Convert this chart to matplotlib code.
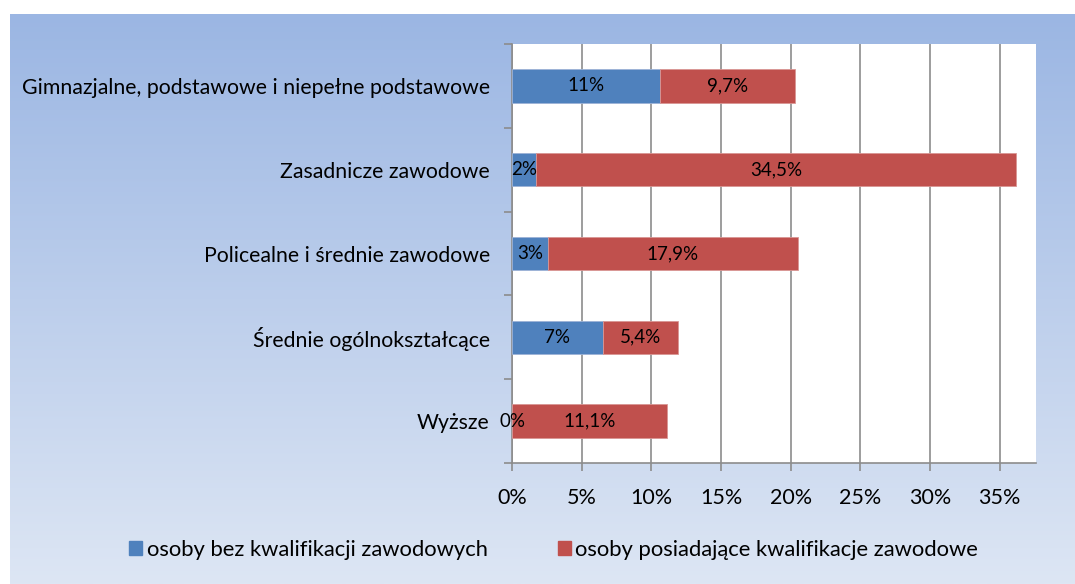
import numpy as np
import matplotlib
matplotlib.use("Agg")
import matplotlib.pyplot as plt
from matplotlib.patches import Patch
from matplotlib.ticker import PercentFormatter, FixedLocator

# ================= DATA =================
categories = [
    "Gimnazjalne, podstawowe i niepełne podstawowe",
    "Zasadnicze zawodowe",
    "Policealne i średnie zawodowe",
    "Średnie ogólnokształcące",
    "Wyższe",
]
bez_kwal = [10.6, 1.7, 2.6, 6.5, 0.0]
z_kwal = [9.7, 34.5, 17.9, 5.4, 11.1]
bez_labels = ["11%", "2%", "3%", "7%", "0%"]
z_labels = ["9,7%", "34,5%", "17,9%", "5,4%", "11,1%"]
series_names = ["osoby bez kwalifikacji zawodowych",
                "osoby posiadające kwalifikacje zawodowe"]
x_ticks = [0, 5, 10, 15, 20, 25, 30, 35]

BLUE = "#4F81BD"
RED = "#C0504D"
GRID = "#8C8C8C"

plt.rcParams["font.family"] = ["Lato", "DejaVu Sans"]

fig = plt.figure(figsize=(10.75, 5.84), dpi=100)

# gradient panel behind the chart
bg = fig.add_axes([10 / 1075, 0, 1 - 10 / 1075, 1 - 14 / 584])
grad = np.linspace(0, 1, 256).reshape(-1, 1)
cmap = matplotlib.colors.LinearSegmentedColormap.from_list(
    "bg", ["#9BB6E3", "#DDE6F4"])
bg.imshow(grad, aspect="auto", cmap=cmap, extent=[0, 1, 0, 1], origin="upper")
bg.set_axis_off()

ax = fig.add_axes([512 / 1075, 1 - 463 / 584, (1036 - 512) / 1075, (463 - 44) / 584])
ax.set_facecolor("white")

y = np.arange(len(categories))
b1 = ax.barh(y, bez_kwal, height=0.4, color=BLUE, edgecolor="#9DB3D6",
             linewidth=0.6, zorder=3)
b2 = ax.barh(y, z_kwal, left=bez_kwal, height=0.4, color=RED,
             edgecolor="#D99694", linewidth=0.6, zorder=3)
ax.bar_label(b1, labels=bez_labels, label_type="center", fontsize=13.5)
ax.bar_label(b2, labels=z_labels, label_type="center", fontsize=13.5)

ax.set_ylim(len(categories) - 0.5, -0.5)
ax.set_xlim(0, 37.6)
ax.set_yticks(y)
ax.set_yticklabels(categories, fontsize=15.3)
ax.tick_params(axis="y", length=0, pad=16)
ax.yaxis.set_minor_locator(FixedLocator(np.arange(-0.5, len(categories), 1)))
ax.tick_params(axis="y", which="minor", length=6, color=GRID, width=1.2)

ax.set_xticks(x_ticks)
ax.xaxis.set_major_formatter(PercentFormatter(decimals=0))
ax.tick_params(axis="x", length=6, color=GRID, width=1.2, labelsize=15.5, pad=12)
ax.grid(axis="x", color=GRID, linewidth=1.2, zorder=0)
ax.set_axisbelow(True)

for side in ["top", "right"]:
    ax.spines[side].set_visible(False)
for side in ["left", "bottom"]:
    ax.spines[side].set_color(GRID)
    ax.spines[side].set_linewidth(1.2)

handles = [Patch(color=BLUE), Patch(color=RED)]
fig.legend(handles, series_names, loc="center", bbox_to_anchor=(0.515, 1 - 550 / 584),
           ncol=2, frameon=False, fontsize=15.8, handlelength=0.6, handleheight=0.6,
           handletextpad=0.2, columnspacing=3.2)

fig.savefig("out.png", dpi=100)
